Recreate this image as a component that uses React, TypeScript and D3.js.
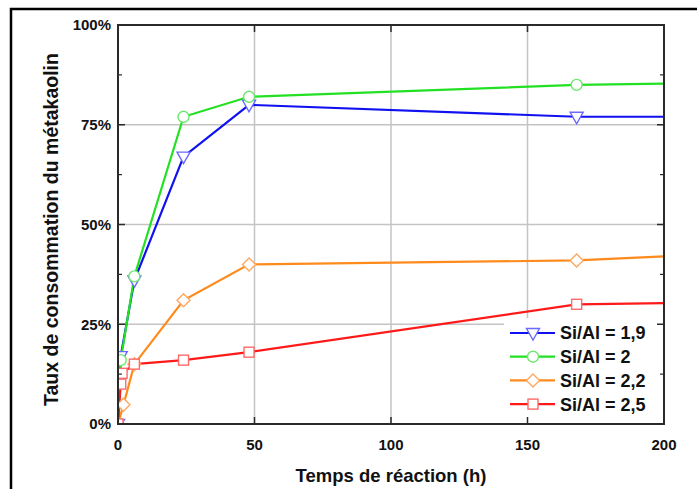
import React from "react";
import * as d3 from "d3";

const W = 697;
const H = 489;

const xTicks = [0, 50, 100, 150, 200];
const yTicks = [0, 0.25, 0.5, 0.75, 1];
const yMinorTicks = [0.125, 0.375, 0.625, 0.875];

const seriesNames = ["Si/Al = 1,9", "Si/Al = 2", "Si/Al = 2,2", "Si/Al = 2,5"];
const blueT = [0, 1, 6, 24, 48, 168, 200];
const blueV = [0, 0.17, 0.36, 0.67, 0.80, 0.77, 0.77];
const greenT = [0, 1, 6, 24, 48, 168, 200];
const greenV = [0, 0.16, 0.37, 0.77, 0.82, 0.85, 0.853];
const orangeT = [0, 2, 6, 24, 48, 168, 200];
const orangeV = [0, 0.048, 0.15, 0.31, 0.40, 0.41, 0.42];
const redT = [0, 1, 1.5, 6, 24, 48, 168, 200];
const redV = [0, 0.10, 0.127, 0.15, 0.16, 0.18, 0.30, 0.303];

const lineColors = ["#1010f0", "#22e022", "#ff8a1c", "#ff1a1a"];
const markerColors = ["#6a6aff", "#6ee86e", "#ffa860", "#ff6a6a"];
const markerTypes = ["triangleDown", "circle", "diamond", "square"];

const FONT = "'Liberation Sans', Arial, Helvetica, sans-serif";

function Marker({ type, x, y, color }: { type: string; x: number; y: number; color: string }) {
  const sw = 1.4;
  if (type === "circle") return <circle cx={x} cy={y} r={5.5} fill="#fff" stroke={color} strokeWidth={sw} />;
  if (type === "square") return <rect x={x - 5} y={y - 5} width={10} height={10} fill="#fff" stroke={color} strokeWidth={sw} />;
  if (type === "diamond")
    return <path d={`M${x},${y - 6.5}L${x + 6.5},${y}L${x},${y + 6.5}L${x - 6.5},${y}Z`} fill="#fff" stroke={color} strokeWidth={sw} />;
  return <path d={`M${x - 6.5},${y - 4.5}L${x + 6.5},${y - 4.5}L${x},${y + 7}Z`} fill="#fff" stroke={color} strokeWidth={sw} />;
}

export default function App() {
  const left = 118, right = 664, top = 25, bottom = 424;
  const x = d3.scaleLinear().domain([0, 200]).range([left, right]);
  const y = d3.scaleLinear().domain([0, 1]).range([bottom, top]);
  const series = [
    { t: blueT, v: blueV },
    { t: greenT, v: greenV },
    { t: orangeT, v: orangeV },
    { t: redT, v: redV },
  ];
  const line = d3
    .line<[number, number]>()
    .x((d) => x(d[0]))
    .y((d) => y(d[1]));
  const fmt = d3.format(".0%");
  const axisColor = "#2a2a2a";
  const gridColor = "#c4c4c4";

  const legendX = 510;
  const legendY0 = 333;
  const legendDy = 23.7;

  return (
    <div style={{ position: "fixed", left: 0, top: 0 }}>
      <svg width={W} height={H} style={{ display: "block", fontFamily: FONT }}>
        <rect x={0} y={0} width={W} height={H} fill="#fff" />
        <defs>
          <clipPath id="plotclip">
            <rect x={left} y={top} width={right - left} height={bottom - top} />
          </clipPath>
        </defs>
        {/* outer frame */}
        <rect x={11} y={9} width={720} height={520} fill="none" stroke="#000" strokeWidth={2.5} />
        {/* grid */}
        {xTicks.slice(1, -1).map((t) => (
          <line key={"gx" + t} x1={x(t)} x2={x(t)} y1={top} y2={bottom} stroke={gridColor} strokeWidth={1.5} />
        ))}
        {yTicks.slice(1, -1).map((t) => (
          <line key={"gy" + t} x1={left} x2={right} y1={y(t)} y2={y(t)} stroke={gridColor} strokeWidth={1.5} />
        ))}
        {/* legend background */}
        <rect x={504} y={318} width={right - 504} height={bottom - 318} fill="#fff" />
        {/* series */}
        <g clipPath="url(#plotclip)">
          {series.map((s, i) => (
            <path
              key={"l" + i}
              d={line(s.t.map((t, j) => [t, s.v[j]] as [number, number])) || ""}
              fill="none"
              stroke={lineColors[i]}
              strokeWidth={2.2}
            />
          ))}
          {series.map((s, i) =>
            s.t.map((t, j) =>
              t < 200 ? <Marker key={"m" + i + "-" + j} type={markerTypes[i]} x={x(t)} y={y(s.v[j])} color={markerColors[i]} /> : null
            )
          )}
        </g>
        {/* axes frame */}
        <rect x={left} y={top} width={right - left} height={bottom - top} fill="none" stroke={axisColor} strokeWidth={2} />
        {/* ticks */}
        {xTicks.slice(1, -1).map((t) => (
          <g key={"tx" + t}>
            <line x1={x(t)} x2={x(t)} y1={bottom} y2={bottom - 7} stroke={axisColor} strokeWidth={1.5} />
            <line x1={x(t)} x2={x(t)} y1={top} y2={top + 7} stroke={axisColor} strokeWidth={1.5} />
          </g>
        ))}
        {yTicks.slice(1, -1).map((t) => (
          <g key={"ty" + t}>
            <line x1={left} x2={left + 7} y1={y(t)} y2={y(t)} stroke={axisColor} strokeWidth={1.5} />
            <line x1={right} x2={right - 7} y1={y(t)} y2={y(t)} stroke={axisColor} strokeWidth={1.5} />
          </g>
        ))}
        {yMinorTicks.map((t) => (
          <g key={"tmy" + t}>
            <line x1={left} x2={left + 4} y1={y(t)} y2={y(t)} stroke={axisColor} strokeWidth={1.2} />
            <line x1={right} x2={right - 4} y1={y(t)} y2={y(t)} stroke={axisColor} strokeWidth={1.2} />
          </g>
        ))}
        {/* tick labels */}
        {xTicks.map((t) => (
          <text key={"lx" + t} x={x(t)} y={450} textAnchor="middle" fontSize={15} fontWeight="bold" fill="#111">
            {t}
          </text>
        ))}
        {yTicks.map((t) => (
          <text key={"ly" + t} x={111} y={y(t)} dy="0.35em" textAnchor="end" fontSize={15} fontWeight="bold" fill="#111">
            {fmt(t)}
          </text>
        ))}
        {/* axis titles */}
        <text x={(left + right) / 2} y={482} textAnchor="middle" fontSize={18.5} fontWeight="bold" fill="#111">
          Temps de réaction (h)
        </text>
        <text
          transform={`translate(58,${(top + bottom) / 2 + 5}) rotate(-90)`}
          textAnchor="middle"
          fontSize={19.5}
          fontWeight="bold"
          fill="#111"
        >
          Taux de consommation du métakaolin
        </text>
        {/* legend */}
        {seriesNames.map((name, i) => {
          const ly = legendY0 + i * legendDy;
          return (
            <g key={"lg" + i}>
              <line x1={legendX} x2={legendX + 45} y1={ly} y2={ly} stroke={lineColors[i]} strokeWidth={2.2} />
              <Marker type={markerTypes[i]} x={legendX + 23} y={ly} color={markerColors[i]} />
              <text x={legendX + 50} y={ly} dy="0.36em" fontSize={18} fontWeight="bold" fill="#111">
                {name}
              </text>
            </g>
          );
        })}
      </svg>
    </div>
  );
}
